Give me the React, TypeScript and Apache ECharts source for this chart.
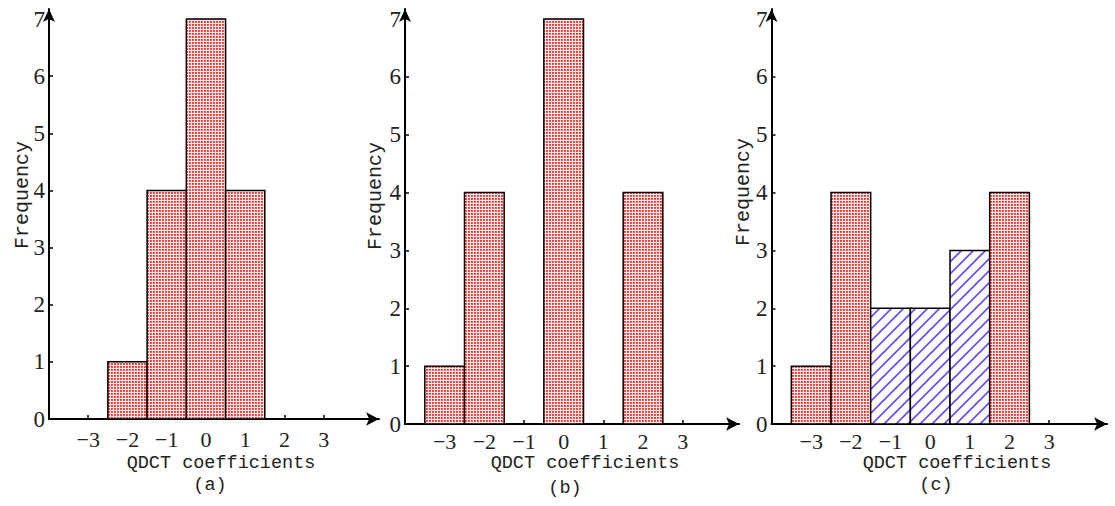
import React, { useEffect, useRef } from 'react';
import * as echarts from 'echarts';

// ---- data ----
const coefficients = [-3, -2, -1, 0, 1, 2, 3];
const freqA = [0, 1, 4, 7, 4, 0, 0];
const freqB = [1, 4, 0, 7, 0, 4, 0];
const freqC = [1, 4, 2, 2, 3, 4, 0];
const fillA = ['dot', 'dot', 'dot', 'dot', 'dot', 'dot', 'dot'];
const fillB = ['dot', 'dot', 'dot', 'dot', 'dot', 'dot', 'dot'];
const fillC = ['dot', 'dot', 'hatch', 'hatch', 'hatch', 'dot', 'dot'];
const xTicks = [-3, -2, -1, 0, 1, 2, 3];
const yTicks = [0, 1, 2, 3, 4, 5, 6, 7];
const panelLabels = ['(a)', '(b)', '(c)'];
const xTitle = 'QDCT coefficients';
const yTitle = 'Frequency';

// ---- layout ----
const panels = [
  { left: 49, top: 9, width: 330, height: 410, xMax: 4.41, yMax: 7.175, labelMargin: 10,
    title: [221, 463.5], sub: [210, 485], yt: [22, 195] },
  { left: 405, top: 9, width: 334, height: 415, xMax: 4.42, yMax: 7.173, labelMargin: 7,
    title: [585, 463.5], sub: [565, 488], yt: [375, 196] },
  { left: 771.5, top: 9, width: 335.5, height: 415, xMax: 4.457, yMax: 7.173, labelMargin: 7,
    title: [957, 463.5], sub: [936, 485], yt: [743, 192] },
];

function makeDots() {
  const c = document.createElement('canvas');
  c.width = 3; c.height = 3;
  const ctx = c.getContext('2d')!;
  ctx.fillStyle = '#fff0f0';
  ctx.fillRect(0, 0, 3, 3);
  ctx.fillStyle = '#ff5050';
  ctx.fillRect(0, 0, 2, 2);
  ctx.fillStyle = '#ff2020';
  ctx.fillRect(0, 0, 1, 1);
  return { image: c.toDataURL(), repeat: 'repeat', imageWidth: 3, imageHeight: 3 };
}

function makeHatch() {
  const s = 12;
  const c = document.createElement('canvas');
  c.width = s; c.height = s;
  const ctx = c.getContext('2d')!;
  ctx.fillStyle = '#ffffff';
  ctx.fillRect(0, 0, s, s);
  ctx.strokeStyle = '#6a4cf2';
  ctx.lineWidth = 1.7;
  ctx.beginPath();
  ctx.moveTo(0, s); ctx.lineTo(s, 0);
  ctx.moveTo(-3, 3); ctx.lineTo(3, -3);
  ctx.moveTo(s - 3, s + 3); ctx.lineTo(s + 3, s - 3);
  ctx.stroke();
  return { image: c.toDataURL(), repeat: 'repeat', imageWidth: s, imageHeight: s };
}

export default function App() {
  const ref = useRef<HTMLDivElement>(null);
  useEffect(() => {
    const chart = echarts.init(ref.current!, null, { renderer: 'svg' });
    const dots = makeDots();
    const hatch = makeHatch();
    const freqs = [freqA, freqB, freqC];
    const fills = [fillA, fillB, fillC];
    const textColor = '#222222';

    const grid = panels.map((p) => ({ left: p.left, top: p.top, width: p.width, height: p.height, containLabel: false }));
    const xAxis = panels.map((p, i) => ({
      type: 'value', gridIndex: i, min: -4, max: p.xMax,
      axisLine: { show: true, onZero: false, symbol: ['none', 'arrow'], symbolSize: [10, 13],
        lineStyle: { color: '#000', width: 2 } },
      axisTick: { show: true, inside: true, length: 4, customValues: xTicks,
        lineStyle: { color: '#000', width: 1.5 } },
      axisLabel: { show: true, customValues: xTicks, margin: p.labelMargin, lineHeight: 20,
        formatter: (v: number) => String(v).replace('-', '\u2212'),
        fontFamily: 'Liberation Serif', fontSize: 22, color: textColor },
      splitLine: { show: false },
    }));
    const yAxis = panels.map((p, i) => ({
      type: 'value', gridIndex: i, min: 0, max: p.yMax,
      axisLine: { show: true, onZero: false, symbol: ['none', 'arrow'], symbolSize: [9, 13],
        lineStyle: { color: '#000', width: 2 } },
      axisTick: { show: true, inside: true, length: 4, customValues: yTicks,
        lineStyle: { color: '#000', width: 1.5 } },
      axisLabel: { show: true, customValues: yTicks, margin: 4, lineHeight: 20,
        fontFamily: 'Liberation Serif', fontSize: 23, color: textColor },
      splitLine: { show: false },
    }));
    const series = panels.map((_, i) => ({
      type: 'custom', xAxisIndex: i, yAxisIndex: i,
      encode: { x: 0, y: 1 },
      data: coefficients.map((x, j) => [x, freqs[i][j], fills[i][j] === 'hatch' ? 1 : 0]),
      renderItem: (params: any, api: any) => {
        const x = api.value(0);
        const y = api.value(1);
        if (!y) return null;
        const p0 = api.coord([x - 0.5, y]);
        const p1 = api.coord([x + 0.5, 0]);
        return {
          type: 'rect',
          shape: { x: p0[0], y: p0[1], width: p1[0] - p0[0], height: p1[1] - p0[1] },
          style: { fill: api.value(2) === 1 ? hatch : dots, stroke: '#000', lineWidth: 1.5 },
        };
      },
    }));

    const graphic: any[] = [];
    panels.forEach((p, i) => {
      graphic.push({ type: 'text', x: p.title[0], y: p.title[1],
        style: { text: xTitle, fontFamily: 'Liberation Mono', fontSize: 18.5, lineHeight: 16, fill: textColor,
          align: 'center', verticalAlign: 'middle' } });
      graphic.push({ type: 'text', x: p.sub[0], y: p.sub[1],
        style: { text: panelLabels[i], fontFamily: 'Liberation Mono', fontSize: 18.5, lineHeight: 16, fill: textColor,
          align: 'center', verticalAlign: 'middle' } });
      graphic.push({ type: 'text', x: p.yt[0], y: p.yt[1], rotation: Math.PI / 2,
        style: { text: yTitle, fontFamily: 'Liberation Mono', fontSize: 20, lineHeight: 18, fill: textColor,
          align: 'center', verticalAlign: 'middle' } });
    });

    chart.setOption({
      animation: false,
      backgroundColor: '#ffffff',
      grid, xAxis, yAxis, series, graphic,
    });
    return () => chart.dispose();
  }, []);
  return <div ref={ref} style={{ position: 'absolute', left: 0, top: 0, width: 1115, height: 506, background: '#fff' }} />;
}
